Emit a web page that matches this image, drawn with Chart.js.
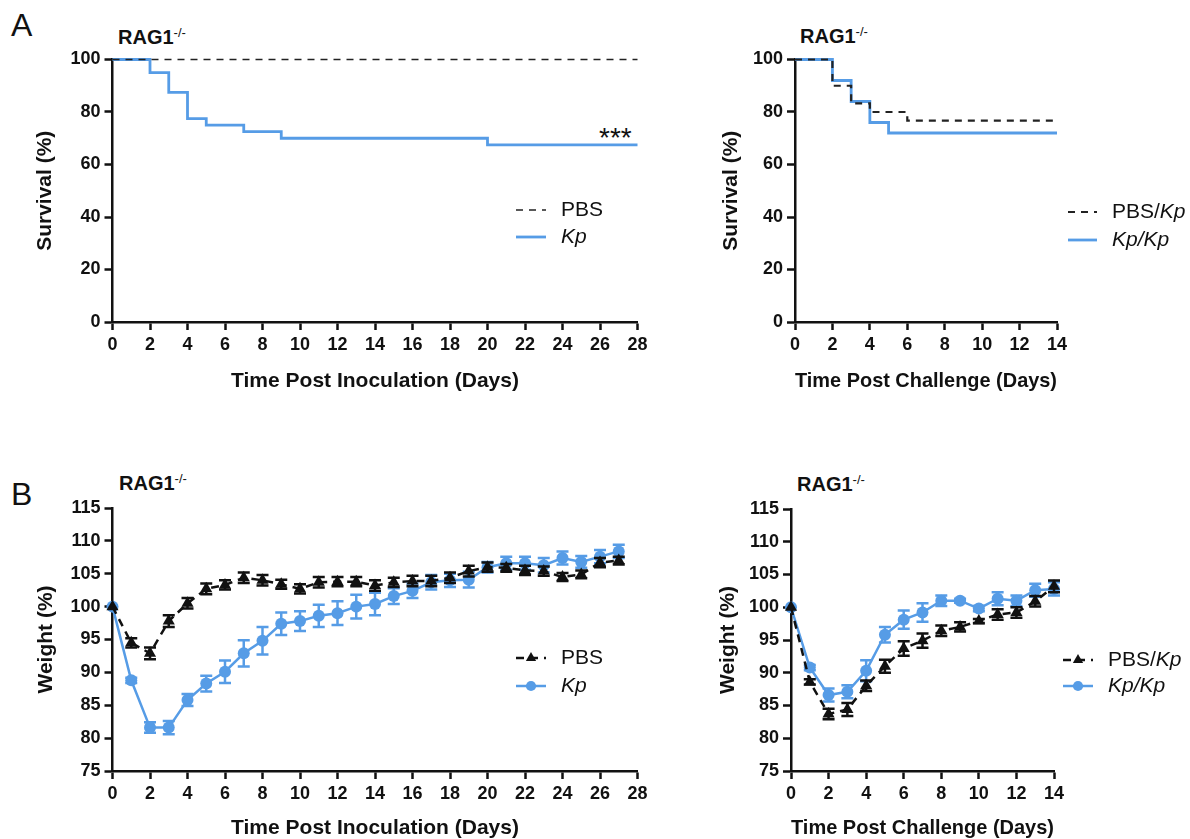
<!DOCTYPE html>
<html>
<head>
<meta charset="utf-8">
<script src="https://cdn.jsdelivr.net/npm/chart.js@4.4.1/dist/chart.umd.min.js"></script>
<style>
  html, body { margin: 0; padding: 0; background: #fff; }
  body { width: 1190px; height: 839px; position: relative; overflow: hidden; font-family: "Liberation Sans", Arial, sans-serif; color: #111; }
  canvas { position: absolute; }
  .letter { position: absolute; font-size: 32px; line-height: 32px; }
  .strain { position: absolute; font-size: 20px; line-height: 20px; font-weight: bold; }
  .strain sup { font-size: 13px; font-weight: normal; vertical-align: 7px; }
  .stars { position: absolute; font-size: 28px; line-height: 28px; }
</style>
</head>
<body>
<div class="letter" style="left:11px;top:9px">A</div>
<div class="letter" style="left:11px;top:478px">B</div>
<div class="strain" style="left:118px;top:23px">RAG1<sup>-/-</sup></div>
<div class="strain" style="left:800px;top:22px">RAG1<sup>-/-</sup></div>
<div class="strain" style="left:119px;top:469px">RAG1<sup>-/-</sup></div>
<div class="strain" style="left:797px;top:470px">RAG1<sup>-/-</sup></div>
<div class="stars" style="left:599px;top:124px">***</div>

<canvas id="survInoc"></canvas>
<canvas id="survChal"></canvas>
<canvas id="weightInoc"></canvas>
<canvas id="weightChal"></canvas>

<script>
(() => {
  "use strict";

  const FONT = `"Liberation Sans", Arial, sans-serif`;
  const BLUE = `rgb(86, 156, 230)`;
  const INK = `#111`;

  // survival after inoculation (%)
  const survPbsDays = [0, 28];
  const survPbs = [100, 100];
  const survKpDays = [0, 2, 3, 4, 5, 7, 9, 20, 28];
  const survKp = [100, 95, 87.5, 77.5, 75, 72.5, 70, 67.5, 67.5];

  // survival after challenge (%)
  const chalPbsDays = [0, 2, 3, 4, 6, 14];
  const chalPbs = [100, 90, 83.3, 80, 76.7, 76.7];
  const chalKpDays = [0, 2, 3, 4, 5, 14];
  const chalKp = [100, 92, 84, 76, 72, 72];

  // weight after inoculation (%), mean and SEM
  const inocDays = [0, 1, 2, 3, 4, 5, 6, 7, 8, 9, 10, 11, 12, 13, 14, 15, 16, 17, 18, 19, 20, 21, 22, 23, 24, 25, 26, 27];
  const inocPbs = [100, 94.5, 92.9, 97.8, 100.5, 102.7, 103.3, 104.4, 104.0, 103.4, 102.7, 103.7, 103.8, 103.8,
    103.2, 103.7, 103.9, 103.9, 104.4, 105.4, 106.0, 105.9, 105.5, 105.4, 104.5, 104.9, 106.7, 107.0];
  const inocPbsSem = [0, 0.7, 0.9, 0.9, 0.8, 0.8, 0.7, 0.8, 0.8, 0.7, 0.7, 0.8, 0.7, 0.7,
    0.8, 0.7, 0.8, 0.8, 0.8, 0.8, 0.7, 0.6, 0.7, 0.7, 0.6, 0.6, 0.7, 0.6];
  const inocKp = [100, 88.8, 81.6, 81.6, 85.8, 88.3, 90.1, 92.9, 94.8, 97.4, 97.8, 98.6, 99.0, 100.0,
    100.4, 101.6, 102.4, 103.7, 104.0, 104.1, 106.0, 106.6, 106.6, 106.3, 107.4, 106.8, 107.6, 108.4];
  const inocKpSem = [0, 0.4, 0.8, 1.0, 0.9, 1.2, 1.7, 2.0, 2.1, 1.7, 1.5, 1.7, 1.8, 1.8,
    1.7, 1.2, 1.1, 1.1, 1.0, 1.2, 0.8, 1.0, 1.0, 1.1, 1.0, 0.9, 1.0, 1.0];

  // weight after challenge (%), mean and SEM
  const chalDays = [0, 1, 2, 3, 4, 5, 6, 7, 8, 9, 10, 11, 12, 13, 14];
  const chalWPbs = [100, 88.6, 83.7, 84.4, 88.0, 91.0, 93.7, 94.9, 96.4, 97.0, 97.9, 98.9, 99.2, 100.9, 103.2];
  const chalWPbsSem = [0, 0.4, 0.8, 1.0, 0.8, 1.0, 1.1, 1.1, 0.8, 0.7, 0.3, 0.8, 0.8, 0.8, 0.9];
  const chalWKp = [100, 90.8, 86.6, 87.1, 90.3, 95.8, 98.1, 99.2, 101.0, 101.0, 99.8, 101.3, 101.0, 102.6, 102.8];
  const chalWKpSem = [0, 0.4, 1.0, 1.0, 1.6, 1.2, 1.4, 1.4, 0.8, 0.3, 0.4, 1.0, 0.8, 1.0, 1.0];

  const xy = (xs, ys) => xs.map((x, i) => ({ x: x, y: ys[i] }));

  // SEM bars, drawn under each dataset
  const errorBars = {
    id: `errorBars`,
    beforeDatasetDraw(chart, args) {
      const ds = chart.data.datasets[args.index];
      if (!ds.sem) return;
      const ys = chart.scales.y,
        ctx = chart.ctx;
      ctx.save();
      ctx.strokeStyle = ds.borderColor;
      ctx.lineWidth = 2.5;
      ctx.setLineDash([]);
      args.meta.data.forEach((pt, i) => {
        const s = ds.sem[i];
        if (!s) return;
        const v = ds.data[i].y;
        const hi = ys.getPixelForValue(v + s),
          lo = ys.getPixelForValue(v - s);
        ctx.beginPath();
        ctx.moveTo(pt.x, hi);
        ctx.lineTo(pt.x, lo);
        ctx.moveTo(pt.x - 6, hi);
        ctx.lineTo(pt.x + 6, hi);
        ctx.moveTo(pt.x - 6, lo);
        ctx.lineTo(pt.x + 6, lo);
        ctx.stroke();
      });
      ctx.restore();
    },
  };

  // GraphPad-like legend: line sample, marker, text with italic parts
  const sideLegend = {
    id: `sideLegend`,
    afterDraw(chart, args, opts) {
      if (!opts.items) return;
      const ctx = chart.ctx;
      opts.items.forEach((item) => {
        const ds = chart.data.datasets[item.dataset];
        const y = item.y;
        ctx.save();
        ctx.strokeStyle = ds.borderColor;
        ctx.lineWidth = ds.borderWidth;
        ctx.setLineDash(ds.borderDash || []);
        ctx.beginPath();
        ctx.moveTo(opts.x0, y);
        ctx.lineTo(opts.x1, y);
        ctx.stroke();
        ctx.setLineDash([]);
        if (ds.pointRadius) {
          const mx = (opts.x0 + opts.x1) / 2,
            r = ds.pointRadius * 0.85;
          ctx.fillStyle = ds.pointBackgroundColor;
          ctx.beginPath();
          if (ds.pointStyle === `triangle`) {
            ctx.moveTo(mx, y - r);
            ctx.lineTo(mx + r * 0.866, y + r * 0.5);
            ctx.lineTo(mx - r * 0.866, y + r * 0.5);
            ctx.closePath();
          } else {
            ctx.arc(mx, y, r, 0, Math.PI * 2);
          }
          ctx.fill();
        }
        let tx = opts.tx;
        ctx.fillStyle = INK;
        ctx.textBaseline = `middle`;
        item.text.forEach(([str, italic]) => {
          ctx.font = `${italic ? `italic ` : ``}${opts.size}px ${FONT}`;
          ctx.fillText(str, tx, y);
          tx += ctx.measureText(str).width;
        });
        ctx.restore();
      });
    },
  };

  function axis(min, max, step, title) {
    return {
      type: `linear`,
      min: min,
      max: max,
      ticks: {
        stepSize: step,
        autoSkip: false,
        maxRotation: 0,
        color: INK,
        padding: 4,
        font: { family: FONT, size: 18, weight: `bold` },
      },
      grid: { drawOnChartArea: false, drawTicks: true, tickLength: 8, tickWidth: 2.5, tickColor: INK, color: INK },
      border: { display: true, color: INK, width: 2.5 },
      title: {
        display: true,
        text: title,
        color: INK,
        padding: { top: 4, bottom: 4 },
        font: { family: FONT, size: 21, weight: `bold` },
      },
    };
  }

  // box = canvas rect on page, area = wanted plot rect on page
  function panel(id, box, area, yTitleX, xTitleY, xAxis, yAxis, datasets, legend) {
    const cv = document.getElementById(id);
    cv.width = box.w;
    cv.height = box.h;
    cv.style.left = `${box.x}px`;
    cv.style.top = `${box.y}px`;
    cv.style.width = `${box.w}px`;
    cv.style.height = `${box.h}px`;

    const half = (21 * 1.2) / 2 + 4;
    const padLeft = yTitleX - half - box.x;
    const yWidth = area.l - box.x - padLeft;
    const scaleBottom = xTitleY + half;
    xAxis.afterFit = (s) => {
      s.height = scaleBottom - area.b;
    };
    yAxis.afterFit = (s) => {
      s.width = yWidth;
    };

    legend.x0 -= box.x;
    legend.x1 -= box.x;
    legend.tx -= box.x;
    legend.items.forEach((it) => (it.y -= box.y));

    return new Chart(cv, {
      type: `line`,
      data: { datasets: datasets },
      options: {
        responsive: false,
        animation: false,
        devicePixelRatio: 1,
        layout: {
          padding: {
            left: padLeft,
            top: area.t - box.y,
            right: box.x + box.w - area.r,
            bottom: box.y + box.h - scaleBottom,
          },
        },
        plugins: {
          legend: { display: false },
          tooltip: { enabled: false },
          sideLegend: legend,
        },
        scales: { x: xAxis, y: yAxis },
      },
      plugins: [errorBars, sideLegend],
    });
  }

  const stepLine = (data, color, width, dash) => ({
    data: data,
    borderColor: color,
    borderWidth: width,
    borderDash: dash,
    stepped: true,
    pointRadius: 0,
    clip: false,
    fill: false,
  });

  const weightLine = (data, sem, color, dash, style, radius) => ({
    data: data,
    sem: sem,
    borderColor: color,
    borderWidth: 2.5,
    borderDash: dash,
    tension: 0,
    pointStyle: style,
    pointRadius: radius,
    pointBackgroundColor: color,
    pointBorderColor: color,
    pointBorderWidth: 0,
    clip: false,
    fill: false,
  });

  panel(
    `survInoc`,
    { x: 0, y: 0, w: 680, h: 410 },
    { l: 112.5, r: 637.5, t: 59.5, b: 322 },
    45,
    381,
    axis(0, 28, 2, `Time Post Inoculation (Days)`),
    axis(0, 100, 20, `Survival (%)`),
    [
      stepLine(xy(survPbsDays, survPbs), `#222`, 1.7, [7, 6]),
      stepLine(xy(survKpDays, survKp), BLUE, 2.8, []),
    ],
    {
      x0: 516, x1: 546, tx: 561, size: 21,
      items: [
        { dataset: 0, y: 210, text: [[`PBS`, false]] },
        { dataset: 1, y: 237, text: [[`Kp`, true]] },
      ],
    }
  );

  panel(
    `survChal`,
    { x: 690, y: 0, w: 500, h: 410 },
    { l: 795, r: 1057, t: 59.5, b: 322 },
    731,
    381,
    axis(0, 14, 2, `Time Post Challenge (Days)`),
    axis(0, 100, 20, `Survival (%)`),
    [
      stepLine(xy(chalPbsDays, chalPbs), `#222`, 2.2, [7, 6]),
      stepLine(xy(chalKpDays, chalKp), BLUE, 2.8, []),
    ],
    {
      x0: 1068, x1: 1097, tx: 1112, size: 21,
      items: [
        { dataset: 0, y: 212, text: [[`PBS/`, false], [`Kp`, true]] },
        { dataset: 1, y: 240, text: [[`Kp/Kp`, true]] },
      ],
    }
  );

  panel(
    `weightInoc`,
    { x: 0, y: 440, w: 680, h: 399 },
    { l: 112.5, r: 637.5, t: 508, b: 771 },
    46,
    828,
    axis(0, 28, 2, `Time Post Inoculation (Days)`),
    axis(75, 115, 5, `Weight (%)`),
    [
      weightLine(xy(inocDays, inocPbs), inocPbsSem, INK, [8, 6], `triangle`, 7),
      weightLine(xy(inocDays, inocKp), inocKpSem, BLUE, [], `circle`, 6),
    ],
    {
      x0: 516, x1: 546, tx: 561, size: 21,
      items: [
        { dataset: 0, y: 658, text: [[`PBS`, false]] },
        { dataset: 1, y: 686, text: [[`Kp`, true]] },
      ],
    }
  );

  panel(
    `weightChal`,
    { x: 690, y: 440, w: 500, h: 399 },
    { l: 791, r: 1054, t: 509, b: 771 },
    728,
    828,
    axis(0, 14, 2, `Time Post Challenge (Days)`),
    axis(75, 115, 5, `Weight (%)`),
    [
      weightLine(xy(chalDays, chalWPbs), chalWPbsSem, INK, [8, 6], `triangle`, 7),
      weightLine(xy(chalDays, chalWKp), chalWKpSem, BLUE, [], `circle`, 6),
    ],
    {
      x0: 1063, x1: 1093, tx: 1108, size: 21,
      items: [
        { dataset: 0, y: 660, text: [[`PBS/`, false], [`Kp`, true]] },
        { dataset: 1, y: 686, text: [[`Kp/Kp`, true]] },
      ],
    }
  );
})();
</script>
</body>
</html>
